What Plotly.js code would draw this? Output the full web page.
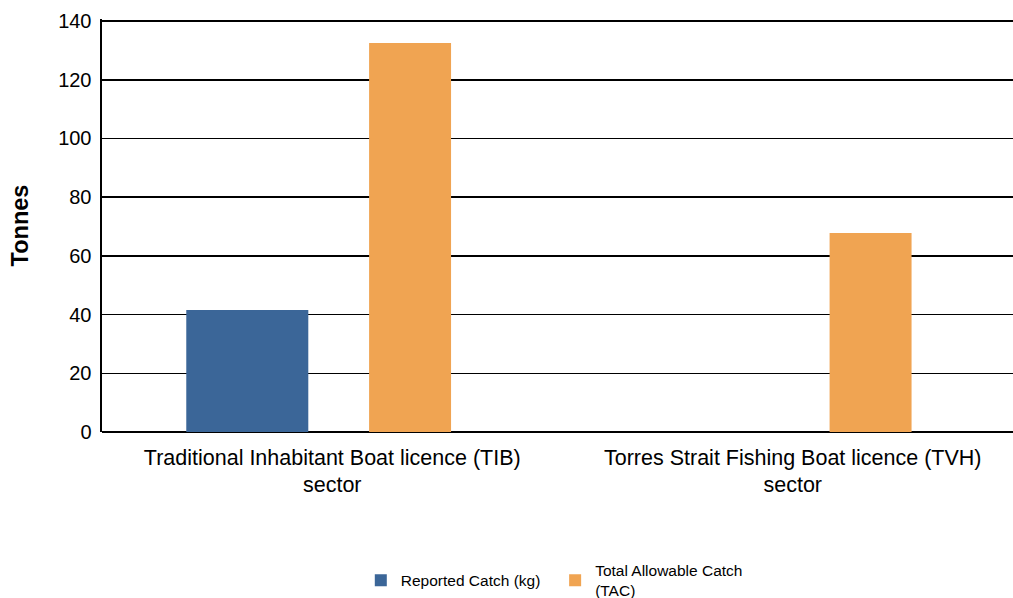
<!DOCTYPE html>
<html><head><meta charset="utf-8">
<script src="https://cdn.plot.ly/plotly-3.0.1.min.js"></script>
<style>html,body{margin:0;padding:0;overflow:hidden;background:#fff;}</style>
</head><body>
<div id="chart"></div>
<script>
const categories = ["Traditional Inhabitant Boat licence (TIB)<br>sector", "Torres Strait Fishing Boat licence (TVH)<br>sector"];
const reportedCatch = [41.6, null];
const totalAllowableCatch = [132.5, 67.8];
const seriesNames = ["Reported Catch (kg)", "Total Allowable Catch<br>(TAC)"];
const yTicks = [0, 20, 40, 60, 80, 100, 120, 140];

const traces = [
  {type:'bar', x:categories, y:reportedCatch, name:seriesNames[0], legend:'legend',
   marker:{color:'#3b6698'}, width:0.265, offset:-0.317},
  {type:'bar', x:categories, y:totalAllowableCatch, name:seriesNames[1], legend:'legend2',
   marker:{color:'#f0a452'}, width:0.178, offset:0.080}
];
const legendStyle = {orientation:'h', xanchor:'left', y:-0.36, yanchor:'middle', valign:'middle',
          font:{size:15.5, color:'#000'}, bgcolor:'rgba(0,0,0,0)'};
const layout = {
  width:1023, height:598,
  margin:{l:102, r:0, t:19, b:166, autoexpand:false},
  paper_bgcolor:'#fff', plot_bgcolor:'#fff',
  font:{family:'Liberation Sans, Arial, sans-serif', color:'#000'},
  barmode:'overlay',
  showlegend:true,
  legend:Object.assign({x:0.281}, legendStyle),
  legend2:Object.assign({x:0.492}, legendStyle),
  xaxis:{type:'category', range:[-0.5,1.5], showgrid:false, zeroline:false, automargin:false,
         showline:false, ticks:'', tickfont:{size:21.5, color:'#000'}, ticklabelstandoff:10},
  yaxis:{range:[0,140.7], tickvals:yTicks, ticktext:yTicks.map(String), automargin:false,
         showgrid:true, gridcolor:'#000', gridwidth:1.5,
         zeroline:true, zerolinecolor:'#000', zerolinewidth:2,
         showline:true, linecolor:'#000', linewidth:2.5,
         ticks:'', ticklabelstandoff:4, tickfont:{size:20, color:'#000'},
         title:{text:'<b>Tonnes</b>', font:{size:23.5, color:'#000'}, standoff:23}}
};
Plotly.newPlot('chart', traces, layout, {displayModeBar:false, staticPlot:true});
</script>
</body></html>
